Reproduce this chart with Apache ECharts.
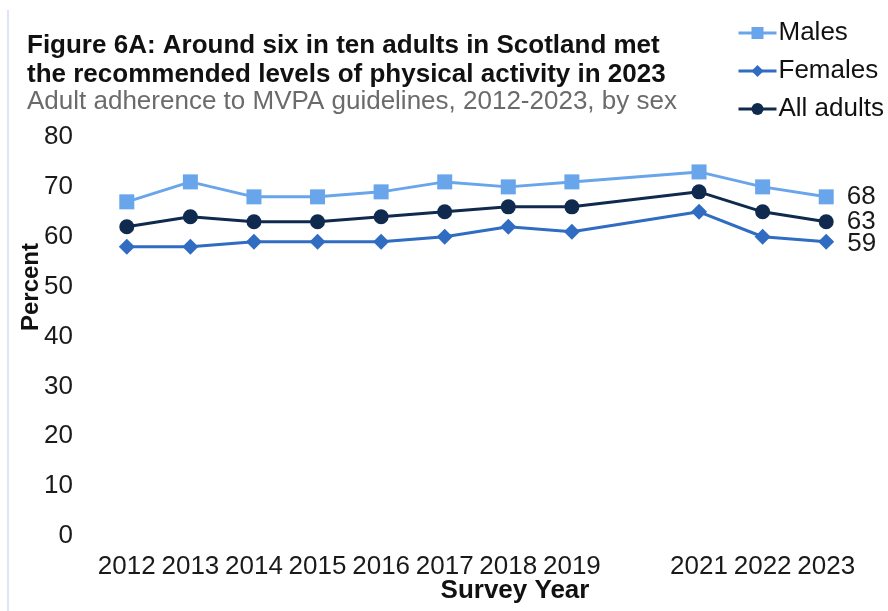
<!DOCTYPE html>
<html>
<head>
<meta charset="utf-8">
<script src="https://cdn.jsdelivr.net/npm/echarts@6/dist/echarts.min.js"></script>
<style>
  html, body { margin: 0; padding: 0; background: #fff; }
  #chart { width: 888px; height: 611px; }
</style>
</head>
<body>
<div id="chart"></div>
<script>
// Survey years (no survey in 2020, left as a gap on the axis)
const years = ['2012', '2013', '2014', '2015', '2016', '2017', '2018', '2019', '', '2021', '2022', '2023'];
const males = [67, 71, 68, 68, 69, 71, 70, 71, null, 73, 70, 68];
const females = [58, 58, 59, 59, 59, 60, 62, 61, null, 65, 60, 59];
const allAdults = [62, 64, 63, 63, 64, 65, 66, 66, null, 69, 65, 63];
const yTicks = [0, 10, 20, 30, 40, 50, 60, 70, 80];

const FONT = "'Liberation Sans', Arial, sans-serif";
const lastIdx = years.length - 1;

function makeSeries(name, data, color, symbol, size, labelOffset) {
    return {
        name: name,
        type: 'line',
        data: data,
        connectNulls: true,
        symbol: symbol,
        symbolSize: size,
        lineStyle: { color: color, width: 3 },
        itemStyle: { color: color },
        label: {
            show: true,
            position: 'right',
            distance: 13,
            offset: [0, labelOffset],
            fontFamily: FONT,
            fontSize: 26,
            color: '#1a1a1a',
            formatter: p => (p.dataIndex === lastIdx ? p.value : '')
        }
    };
}

function headText(text, y, bold, color) {
    return {
        type: 'text',
        style: {
            text: text, x: 27, y: y,
            fontFamily: FONT, fontSize: 26,
            fontWeight: bold ? 'bold' : 'normal',
            fill: color, verticalAlign: 'middle'
        }
    };
}

const chart = echarts.init(document.getElementById('chart'));
chart.setOption({
    animation: false,
    legend: {
        orient: 'vertical',
        left: 737,
        top: 20,
        padding: 0,
        itemGap: 12,
        itemWidth: 38,
        itemHeight: 15,
        lineStyle: { width: 3 },
        textStyle: { fontFamily: FONT, fontSize: 26, color: '#111', padding: [0, 0, 0, -3] },
        data: ['Males', 'Females', 'All adults']
    },
    grid: { left: 95, right: 30, top: 137, bottom: 75 },
    xAxis: {
        type: 'category',
        data: years,
        boundaryGap: true,
        axisLine: { show: false },
        axisTick: { show: false },
        axisLabel: { fontFamily: FONT, fontSize: 26, color: '#1a1a1a', margin: 18, interval: 0 }
    },
    yAxis: {
        type: 'value',
        min: yTicks[0],
        max: yTicks[yTicks.length - 1],
        interval: 10,
        splitLine: { show: false },
        axisLine: { show: false },
        axisTick: { show: false },
        axisLabel: { fontFamily: FONT, fontSize: 26, color: '#1a1a1a', margin: 22 }
    },
    graphic: [
        headText('Figure 6A: Around six in ten adults in Scotland met', 46, true, '#111'),
        headText('the recommended levels of physical activity in 2023', 75, true, '#111'),
        headText('Adult adherence to MVPA guidelines, 2012-2023, by sex', 102, false, '#6b6b6b'),
        {
            type: 'text',
            x: 31,
            y: 287,
            rotation: Math.PI / 2,
            style: {
                text: 'Percent',
                fontFamily: FONT, fontSize: 24, fontWeight: 'bold', fill: '#111',
                align: 'center', verticalAlign: 'middle'
            }
        },
        {
            type: 'text',
            style: {
                text: 'Survey Year',
                x: 515, y: 591,
                fontFamily: FONT, fontSize: 26, fontWeight: 'bold', fill: '#111',
                align: 'center', verticalAlign: 'middle'
            }
        },
        {
            type: 'line',
            shape: { x1: 8, y1: 10, x2: 8, y2: 611 },
            style: { stroke: '#b9cdf5', lineWidth: 1 }
        }
    ],
    series: [
        makeSeries('Males', males, '#69a5ea', 'rect', 15, 0),
        makeSeries('Females', females, '#2f6cc2', 'diamond', 16, 2),
        makeSeries('All adults', allAdults, '#0f2a4e', 'circle', 15, 0)
    ]
});
</script>
</body>
</html>
